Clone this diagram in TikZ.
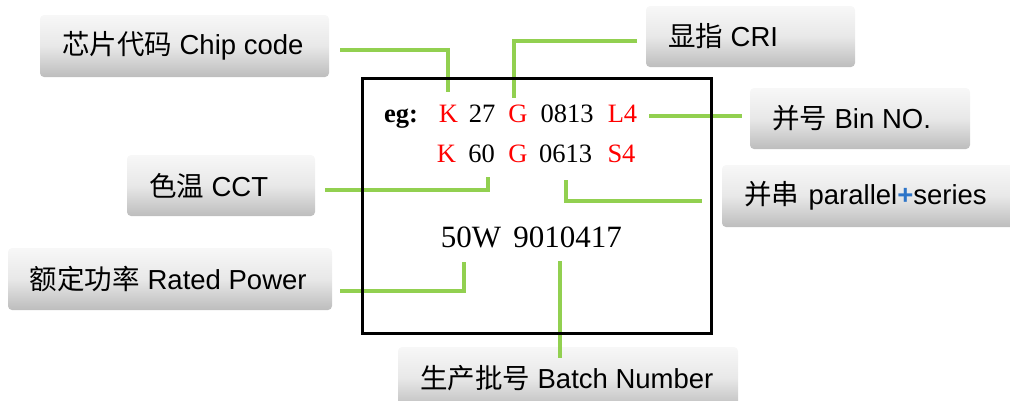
\documentclass[tikz,border=0pt]{standalone}
\usepackage{fontspec}
\setmainfont{Liberation Sans}
\newfontfamily\cjk{Noto Sans CJK SC}
\newfontfamily\ser{Liberation Serif}
\definecolor{lineg}{HTML}{92D050}
\definecolor{codered}{HTML}{FF0000}
\definecolor{plusblue}{HTML}{2E75C8}
\newcommand\lbtxt[2]{\makebox[#1][l]{#2}}
\begin{document}
\begin{tikzpicture}[x=1pt,y=-1pt,
  lab/.style={rounded corners=4pt, top color=white!97!black, bottom color=white!74!black,
    middle color=white!91!black, inner xsep=22pt, inner ysep=0pt,
    font=\fontsize{27.5}{30}\selectfont, anchor=center},
  conn/.style={draw=lineg, line width=4pt},
  tok/.style={font=\ser\fontsize{26.5}{30}\selectfont, anchor=base, inner sep=0pt},
  rtok/.style={tok, text=codered},
  bigtok/.style={tok, font=\ser\fontsize{31}{34}\selectfont},
  frame/.style={draw=black, line width=3pt, inner sep=0pt}]
\useasboundingbox (0,0) rectangle (1010,400);

% labels
\node[lab, minimum width=289, minimum height=62] (chip) at (184.5,46) {\lbtxt{245pt}{{\cjk 芯片代码} Chip code}};
\node[lab, minimum width=209, minimum height=61] (cri) at (750.5,36.5) {\lbtxt{165pt}{{\cjk 显指} CRI}};
\node[lab, minimum width=220, minimum height=61] (bin) at (860,118.5) {\lbtxt{176pt}{{\cjk 并号} Bin NO.}};
\node[lab, minimum width=292, minimum height=62] (par) at (868,196) {\lbtxt{248pt}{{\cjk 并串}\hspace{0.35em}parallel{\color{plusblue}\textbf{+}}series}};
\node[lab, minimum width=188, minimum height=61] (cct) at (221,185.5) {\lbtxt{144pt}{{\cjk 色温} CCT}};
\node[lab, minimum width=324, minimum height=62] (rated) at (170,279) {\lbtxt{280pt}{{\cjk 额定功率} Rated Power}};
\node[lab, minimum width=340, minimum height=62] (batch) at (568,378) {\lbtxt{296pt}{{\cjk 生产批号} Batch Number}};

% connector points
\coordinate (c1a) at (340,50);  \coordinate (c1b) at (448,92);
\coordinate (c2a) at (637,41);  \coordinate (c2b) at (514,98);
\coordinate (c3a) at (649,116); \coordinate (c3b) at (742,116);
\coordinate (c4a) at (566,180); \coordinate (c4b) at (702,201);
\coordinate (c5a) at (325,190); \coordinate (c5b) at (488,177);
\coordinate (c6a) at (340,291); \coordinate (c6b) at (464,262);
\coordinate (c7a) at (560,261); \coordinate (c7b) at (560,358);

\draw[conn] (c1a) -| (c1b);
\draw[conn] (c2a) -| (c2b);
\draw[conn] (c3a) -- (c3b);
\draw[conn] (c4a) |- (c4b);
\draw[conn] (c5a) -| (c5b);
\draw[conn] (c6a) -| (c6b);
\draw[conn] (c7a) -- (c7b);

% frame
\node[frame, minimum width=349, minimum height=255] (box) at (536.5,205.5) {};

% code text
\node[tok, anchor=base west] (eg) at (384,122) {\textbf{eg:}};
\node[rtok] (k1) at (448.5,122) {K};
\node[tok] (n1) at (482,122) {27};
\node[rtok] (g1) at (518,122) {G};
\node[tok] (d1) at (567,122) {0813};
\node[rtok] (b1) at (622.5,122) {L4};
\node[rtok] (k2) at (446.5,162) {K};
\node[tok] (n2) at (481.5,162) {60};
\node[rtok] (g2) at (518,162) {G};
\node[tok] (d2) at (565.5,162) {0613};
\node[rtok] (b2) at (621.5,162) {S4};
\node[bigtok] (pw) at (471,247) {50W};
\node[bigtok] (bn) at (567.5,247) {9010417};
\end{tikzpicture}
\end{document}
